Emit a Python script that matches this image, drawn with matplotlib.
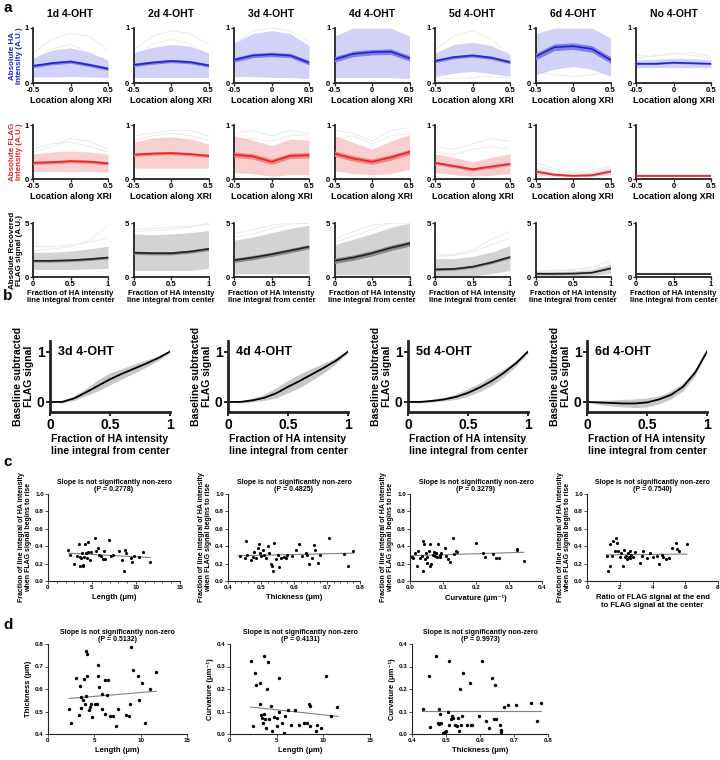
import matplotlib
matplotlib.use("Agg")
import matplotlib.pyplot as plt
from matplotlib.ticker import MultipleLocator

plt.rcParams['font.family'] = ['Liberation Sans', 'DejaVu Sans']
plt.rcParams['font.weight'] = 'bold'

W, H = 720, 760

# ---------------- panel a data ----------------
days = ['1d 4-OHT', '2d 4-OHT', '3d 4-OHT', '4d 4-OHT', '5d 4-OHT', '6d 4-OHT', 'No 4-OHT']
loc_x = [-0.5, -0.25, 0, 0.25, 0.5]
frac_x = [0, 0.25, 0.5, 0.75, 1]

ha_mean = [[0.31, 0.36, 0.39, 0.33, 0.26], [0.33, 0.37, 0.40, 0.38, 0.32], [0.42, 0.50, 0.52, 0.50, 0.37],
           [0.43, 0.53, 0.56, 0.57, 0.45], [0.40, 0.47, 0.50, 0.46, 0.38], [0.48, 0.65, 0.67, 0.62, 0.42],
           [0.35, 0.35, 0.37, 0.36, 0.35]]
ha_hi = [[0.45, 0.60, 0.64, 0.56, 0.42], [0.55, 0.65, 0.70, 0.67, 0.55], [0.72, 0.90, 0.95, 0.90, 0.68],
         [0.85, 1.00, 1.00, 1.00, 0.85], [0.55, 0.70, 0.74, 0.68, 0.52], [0.90, 1.00, 1.00, 1.00, 0.82],
         [0.42, 0.43, 0.45, 0.44, 0.43]]
ha_lo = [[0.11, 0.11, 0.12, 0.11, 0.10], [0.10, 0.10, 0.10, 0.10, 0.10], [0.12, 0.12, 0.10, 0.10, 0.08],
         [0.10, 0.10, 0.10, 0.10, 0.08], [0.12, 0.18, 0.21, 0.17, 0.12], [0.15, 0.25, 0.30, 0.25, 0.12],
         [0.28, 0.28, 0.28, 0.28, 0.28]]
ha_sem = [0.03, 0.03, 0.04, 0.05, 0.03, 0.06, 0.015]
ha_faint = [[[0.55, 0.80, 0.90, 0.85, 0.60], [0.40, 0.62, 0.70, 0.55, 0.35]],
            [[0.60, 0.85, 0.95, 0.90, 0.70], [0.45, 0.70, 0.80, 0.72, 0.50]],
            [[0.70, 0.95, 1.00, 0.95, 0.75], [0.10, 0.12, 0.15, 0.12, 0.08]],
            [[0.20, 0.25, 0.28, 0.30, 0.25], [0.70, 0.85, 0.95, 0.90, 0.70]],
            [[0.60, 0.85, 0.95, 0.80, 0.50], [0.10, 0.08, 0.10, 0.12, 0.08]],
            [[0.20, 0.15, 0.12, 0.15, 0.20], [0.30, 0.40, 0.45, 0.40, 0.28]],
            [[0.45, 0.50, 0.52, 0.55, 0.48], [0.50, 0.48, 0.55, 0.50, 0.45]]]

flag_mean = [[0.30, 0.31, 0.33, 0.32, 0.29], [0.45, 0.47, 0.48, 0.46, 0.43], [0.45, 0.42, 0.32, 0.43, 0.44],
             [0.47, 0.38, 0.32, 0.40, 0.50], [0.30, 0.24, 0.18, 0.23, 0.28], [0.14, 0.08, 0.06, 0.07, 0.14],
             [0.06, 0.06, 0.06, 0.06, 0.06]]
flag_hi = [[0.46, 0.50, 0.52, 0.50, 0.46], [0.68, 0.76, 0.78, 0.74, 0.65], [0.80, 0.72, 0.62, 0.74, 0.72],
           [0.80, 0.68, 0.55, 0.70, 0.82], [0.47, 0.40, 0.32, 0.40, 0.47], [0.20, 0.12, 0.09, 0.12, 0.20],
           [0.08, 0.08, 0.08, 0.08, 0.08]]
flag_lo = [[0.14, 0.14, 0.14, 0.14, 0.13], [0.20, 0.20, 0.20, 0.20, 0.20], [0.12, 0.10, 0.05, 0.08, 0.08],
           [0.15, 0.10, 0.08, 0.10, 0.18], [0.12, 0.08, 0.05, 0.07, 0.10], [0.08, 0.05, 0.04, 0.05, 0.08],
           [0.04, 0.04, 0.04, 0.04, 0.04]]
flag_sem = [0.03, 0.03, 0.05, 0.05, 0.03, 0.015, 0.01]
flag_faint = [[[0.50, 0.60, 0.75, 0.70, 0.55], [0.55, 0.65, 0.68, 0.60, 0.50]],
              [[0.80, 0.85, 0.90, 0.90, 0.80], [0.70, 0.80, 0.85, 0.80, 0.72]],
              [[0.85, 0.90, 0.80, 0.90, 0.85], [0.70, 0.75, 0.70, 0.80, 0.82]],
              [[0.90, 0.85, 0.70, 0.90, 0.95], [0.75, 0.80, 0.65, 0.80, 0.85]],
              [[0.60, 0.55, 0.65, 0.75, 0.70], [0.50, 0.45, 0.55, 0.60, 0.55]],
              [[0.30, 0.20, 0.12, 0.15, 0.25], [0.25, 0.15, 0.10, 0.12, 0.22]],
              [[0.10, 0.10, 0.10, 0.10, 0.10], [0.09, 0.08, 0.09, 0.08, 0.09]]]

rec_mean = [[1.50, 1.50, 1.55, 1.65, 1.80], [2.25, 2.20, 2.20, 2.35, 2.60], [1.55, 1.80, 2.10, 2.45, 2.80],
            [1.50, 1.80, 2.20, 2.70, 3.10], [0.70, 0.75, 0.95, 1.35, 1.85], [0.30, 0.30, 0.32, 0.40, 0.80],
            [0.25, 0.25, 0.25, 0.25, 0.25]]
rec_hi = [[2.30, 2.30, 2.40, 2.60, 2.85], [4.00, 3.90, 4.00, 4.10, 4.30], [3.40, 3.70, 4.10, 4.50, 4.80],
          [3.00, 3.50, 4.00, 4.60, 5.00], [1.70, 1.70, 1.90, 2.30, 2.90], [0.50, 0.50, 0.55, 0.70, 1.20],
          [0.35, 0.35, 0.35, 0.35, 0.35]]
rec_lo = [[0.70, 0.70, 0.70, 0.75, 0.80], [0.60, 0.60, 0.60, 0.60, 0.80], [0.30, 0.30, 0.30, 0.30, 0.30],
          [0.20, 0.20, 0.20, 0.20, 0.20], [0.05, 0.05, 0.10, 0.30, 0.60], [0.10, 0.10, 0.10, 0.15, 0.35],
          [0.15, 0.15, 0.15, 0.15, 0.15]]
rec_sem = [0.12, 0.15, 0.2, 0.25, 0.12, 0.06, 0.03]
rec_faint = [[[2.80, 2.80, 3.00, 3.20, 3.60], [2.40, 2.60, 2.80, 3.40, 4.80]],
             [[4.40, 4.50, 4.60, 4.70, 4.90], [4.20, 4.30, 4.40, 4.60, 5.00]],
             [[4.00, 4.40, 4.80, 5.00, 5.00], [3.70, 4.00, 4.50, 4.90, 5.00]],
             [[3.50, 4.20, 4.80, 5.00, 5.00], [3.20, 3.80, 4.40, 5.00, 5.00]],
             [[2.00, 2.10, 2.50, 3.50, 4.20], [1.90, 2.00, 2.30, 3.00, 3.60]],
             [[0.60, 0.60, 0.70, 0.90, 1.60], [0.50, 0.55, 0.60, 0.80, 1.40]],
             [[0.40, 0.40, 0.40, 0.40, 0.40], [0.38, 0.36, 0.38, 0.36, 0.38]]]

# ---------------- panel b data ----------------
b_titles = ['3d 4-OHT', '4d 4-OHT', '5d 4-OHT', '6d 4-OHT']
b_x = [0, 0.1, 0.2, 0.3, 0.4, 0.5, 0.6, 0.7, 0.8, 0.9, 1.0]
b_mean = [[0, 0.0, 0.07, 0.19, 0.32, 0.45, 0.56, 0.66, 0.76, 0.87, 1.0],
          [0, 0.0, 0.03, 0.08, 0.17, 0.30, 0.42, 0.55, 0.68, 0.82, 1.0],
          [0, 0.0, 0.02, 0.05, 0.10, 0.18, 0.29, 0.42, 0.58, 0.77, 1.0],
          [0, -0.01, -0.02, -0.03, -0.03, -0.01, 0.05, 0.14, 0.30, 0.58, 1.0]]
b_hi = [[0, 0.02, 0.12, 0.27, 0.44, 0.58, 0.66, 0.75, 0.83, 0.91, 1.02],
        [0, 0.02, 0.07, 0.15, 0.28, 0.43, 0.56, 0.67, 0.77, 0.88, 1.02],
        [0, 0.02, 0.05, 0.09, 0.16, 0.26, 0.38, 0.52, 0.66, 0.82, 1.02],
        [0, 0.03, 0.04, 0.05, 0.06, 0.08, 0.12, 0.22, 0.38, 0.64, 1.02]]
b_lo = [[0, -0.02, 0.03, 0.12, 0.22, 0.34, 0.46, 0.57, 0.69, 0.82, 0.98],
        [0, -0.02, 0.0, 0.03, 0.08, 0.18, 0.29, 0.43, 0.58, 0.76, 0.98],
        [0, -0.02, 0.0, 0.02, 0.05, 0.11, 0.21, 0.33, 0.50, 0.71, 0.98],
        [0, -0.05, -0.08, -0.10, -0.11, -0.10, -0.04, 0.06, 0.22, 0.52, 0.98]]

# ---------------- panel c data ----------------
length = [2.3, 2.5, 3.0, 3.3, 3.5, 3.6, 3.6, 3.8, 3.9, 4.0, 4.0, 4.1, 4.2, 4.3, 4.4, 4.5, 4.6, 4.8, 4.9,
          5.3, 5.5, 5.7, 5.8, 6.0, 6.2, 6.4, 6.5, 6.9, 7.2, 7.4, 8.1, 8.4, 8.6, 8.7, 8.9, 9.4, 9.6, 9.8,
          10.3, 10.8, 11.6]
c1_y = [0.36, 0.30, 0.20, 0.29, 0.43, 0.28, 0.17, 0.26, 0.32, 0.18, 0.17, 0.28, 0.43, 0.32, 0.27, 0.45, 0.33,
        0.24, 0.33, 0.50, 0.35, 0.38, 0.30, 0.29, 0.25, 0.34, 0.25, 0.47, 0.29, 0.30, 0.34, 0.24, 0.11, 0.36,
        0.32, 0.27, 0.22, 0.29, 0.28, 0.33, 0.22]
c1_fit = ([2.3, 11.6], [0.32, 0.27])

thick_c = [0.435, 0.453, 0.457, 0.455, 0.47, 0.475, 0.48, 0.485, 0.49, 0.493, 0.497, 0.50, 0.505, 0.51, 0.515,
           0.52, 0.525, 0.53, 0.533, 0.537, 0.54, 0.545, 0.55, 0.555, 0.56, 0.57, 0.575, 0.58, 0.595, 0.605,
           0.615, 0.625, 0.635, 0.64, 0.645, 0.655, 0.66, 0.663, 0.673, 0.68, 0.705, 0.75, 0.765, 0.78]
c2_y = [0.29, 0.27, 0.30, 0.46, 0.24, 0.28, 0.33, 0.27, 0.38, 0.42, 0.32, 0.29, 0.36, 0.30, 0.26, 0.40, 0.32,
        0.19, 0.17, 0.11, 0.44, 0.25, 0.30, 0.16, 0.27, 0.28, 0.26, 0.30, 0.29, 0.36, 0.42, 0.29, 0.32, 0.30,
        0.20, 0.26, 0.41, 0.36, 0.21, 0.30, 0.50, 0.31, 0.17, 0.34]
c2_fit = ([0.43, 0.78], [0.29, 0.32])

curv_c = [0.005, 0.01, 0.015, 0.02, 0.025, 0.03, 0.035, 0.038, 0.04, 0.042, 0.045, 0.048, 0.05, 0.053, 0.057,
          0.06, 0.062, 0.065, 0.07, 0.072, 0.075, 0.078, 0.082, 0.085, 0.09, 0.092, 0.095, 0.105, 0.11, 0.115,
          0.12, 0.13, 0.133, 0.14, 0.142, 0.20, 0.22, 0.226, 0.25, 0.26, 0.27, 0.325, 0.325, 0.345]
c3_y = [0.28, 0.26, 0.32, 0.17, 0.35, 0.27, 0.29, 0.11, 0.46, 0.42, 0.25, 0.32, 0.21, 0.28, 0.34, 0.17, 0.43,
        0.20, 0.30, 0.33, 0.29, 0.32, 0.28, 0.42, 0.30, 0.28, 0.32, 0.38, 0.29, 0.25, 0.22, 0.50, 0.31, 0.35,
        0.33, 0.44, 0.32, 0.28, 0.31, 0.27, 0.26, 0.36, 0.37, 0.23]
c3_fit = ([0.0, 0.345], [0.29, 0.33])

ratio = [1.2, 1.3, 1.4, 1.4, 1.5, 1.6, 1.7, 1.8, 1.85, 1.9, 2.0, 2.1, 2.2, 2.25, 2.3, 2.4, 2.45, 2.5, 2.55,
         2.6, 2.65, 2.7, 2.8, 2.95, 3.25, 3.35, 3.45, 3.65, 3.85, 4.05, 4.25, 4.4, 4.55, 4.65, 4.85, 5.0,
         5.2, 5.45, 5.5, 5.6, 6.1]
c4_y = [0.29, 0.11, 0.43, 0.17, 0.29, 0.46, 0.35, 0.50, 0.44, 0.34, 0.28, 0.32, 0.17, 0.36, 0.28, 0.29, 0.25,
        0.32, 0.28, 0.34, 0.26, 0.30, 0.28, 0.33, 0.21, 0.29, 0.34, 0.27, 0.32, 0.28, 0.29, 0.19, 0.30, 0.28,
        0.25, 0.26, 0.38, 0.44, 0.37, 0.34, 0.42]
c4_fit = ([1.2, 6.1], [0.30, 0.31])

c_xlabels = ['Length (μm)', 'Thickness (μm)', 'Curvature (μm⁻¹)',
             'Ratio of FLAG signal at the end\nto FLAG signal at the center']
c_pvals = ['0.2778', '0.4825', '0.3279', '0.7540']

# ---------------- panel d data ----------------
d1_x = [2.3, 2.5, 3.0, 3.3, 3.5, 3.6, 3.6, 3.8, 3.85, 3.96, 4.1, 4.15, 4.26, 4.26, 4.4, 4.5, 4.6, 4.8, 5.1,
        5.3, 5.4, 5.4, 5.5, 5.8, 5.85, 6.15, 6.2, 6.4, 6.5, 6.7, 7.0, 7.35, 7.55, 8.4, 8.7, 8.9, 8.95,
        9.2, 9.7, 9.8, 10.1, 10.5, 11.0, 11.7]
d1_y = [0.51, 0.45, 0.647, 0.485, 0.615, 0.563, 0.515, 0.55, 0.645, 0.535, 0.77, 0.57, 0.755, 0.66, 0.505,
        0.52, 0.535, 0.475, 0.535, 0.535, 0.705, 0.66, 0.61, 0.58, 0.51, 0.49, 0.64, 0.575, 0.64, 0.48, 0.48,
        0.435, 0.51, 0.485, 0.48, 0.535, 0.785, 0.685, 0.66, 0.55, 0.625, 0.45, 0.60, 0.675]
d1_fit = ([2.3, 11.7], [0.558, 0.59])

d2_x = [2.2, 2.5, 2.7, 2.8, 3.2, 3.2, 3.3, 3.4, 3.5, 3.6, 3.6, 3.8, 3.9, 4.0, 4.1, 4.2, 4.4, 4.5, 4.7, 5.0,
        5.0, 5.2, 5.3, 5.6, 5.8, 5.9, 6.2, 6.5, 7.0, 7.4, 7.9, 8.2, 8.45, 8.6, 8.55, 9.2, 9.35, 9.7, 10.25,
        10.8, 11.5]
d2_y = [0.325, 0.035, 0.27, 0.22, 0.225, 0.135, 0.085, 0.07, 0.05, 0.345, 0.09, 0.065, 0.025, 0.20, 0.32,
        0.065, 0.125, 0.012, 0.075, 0.035, 0.07, 0.25, 0.10, 0.05, 0.005, 0.08, 0.105, 0.04, 0.105, 0.04,
        0.05, 0.05, 0.135, 0.125, 0.035, 0.015, 0.04, 0.025, 0.26, 0.08, 0.12]
d2_fit = ([2.2, 11.6], [0.12, 0.078])

d3_x = [0.432, 0.449, 0.452, 0.472, 0.475, 0.478, 0.48, 0.483, 0.485, 0.491, 0.496, 0.50, 0.505, 0.508, 0.51,
        0.514, 0.517, 0.52, 0.527, 0.532, 0.534, 0.537, 0.54, 0.545, 0.548, 0.55, 0.562, 0.57, 0.574, 0.577,
        0.597, 0.607, 0.617, 0.627, 0.636, 0.641, 0.643, 0.648, 0.659, 0.661, 0.663, 0.671, 0.681, 0.705,
        0.75, 0.768, 0.78]
d3_y = [0.11, 0.26, 0.03, 0.345, 0.05, 0.11, 0.045, 0.088, 0.05, 0.005, 0.01, 0.015, 0.10, 0.325, 0.04,
        0.065, 0.08, 0.07, 0.04, 0.035, 0.07, 0.015, 0.20, 0.04, 0.08, 0.27, 0.04, 0.225, 0.038, 0.04, 0.08,
        0.325, 0.06, 0.025, 0.248, 0.065, 0.22, 0.065, 0.04, 0.02, 0.01, 0.12, 0.13, 0.13, 0.137, 0.057, 0.137]
d3_fit = ([0.43, 0.78], [0.103, 0.103])
d_pvals = ['0.5132', '0.4131', '0.9973']

fig = plt.figure(figsize=(7.2, 7.6), dpi=100)


def px_axes(x0, y0, x1, y1):
    return fig.add_axes([x0 / W, 1 - y1 / H, (x1 - x0) / W, (y1 - y0) / H])


def style(ax, lw, fs, tl=2):
    for s in ['top', 'right']:
        ax.spines[s].set_visible(False)
    for s in ['left', 'bottom']:
        ax.spines[s].set_linewidth(lw)
        ax.spines[s].set_color('#222222')
    ax.tick_params(labelsize=fs, length=tl, width=lw * 0.7, pad=1, color='#222222')
    for t in ax.get_xticklabels() + ax.get_yticklabels():
        t.set_fontweight('bold')


# ---- panel a ----
rows = [(ha_mean, ha_hi, ha_lo, ha_sem, ha_faint, loc_x, 1, 28, 83, ('#cbcbf7', '#7f7fea', '#2323cf')),
        (flag_mean, flag_hi, flag_lo, flag_sem, flag_faint, loc_x, 1, 125, 179, ('#f9c6c6', '#f08585', '#e02626')),
        (rec_mean, rec_hi, rec_lo, rec_sem, rec_faint, frac_x, 5, 223, 277, ('#cccccc', '#8a8a8a', '#222222'))]
ylabs = [('Absolute HA\nIntensity (A.U.)', '#2323cf'), ('Absolute FLAG\nIntensity (A.U.)', '#e02626'),
         ('Absolute Recovered\nFLAG signal (A.U.)', 'black')]

for r, (mean, hi, lo, sem, faint, xs, ytop, y0, y1, cols) in enumerate(rows):
    for i in range(7):
        x0 = 33 + 100.5 * i
        ax = px_axes(x0, y0, x0 + 75, y1)
        for tr in faint[i]:
            ax.plot(xs, tr, color='#e4e4e4', lw=0.5, zorder=1)
        ax.fill_between(xs, lo[i], hi[i], color=cols[0], lw=0, alpha=0.85, zorder=2)
        ax.fill_between(xs, [m - sem[i] for m in mean[i]], [m + sem[i] for m in mean[i]],
                        color=cols[1], lw=0, zorder=3)
        ax.plot(xs, mean[i], color=cols[2], lw=1.2, zorder=4)
        ax.set_ylim(0, ytop)
        ax.set_yticks([0, ytop])
        if r < 2:
            ax.set_xlim(-0.5, 0.5)
            ax.set_xticks([-0.5, 0, 0.5])
            ax.set_xticklabels(['-0.5', '0', '0.5'])
            ax.set_xlabel('Location along XRI', fontsize=6.5, fontweight='bold', labelpad=1)
        else:
            ax.set_xlim(0, 1)
            ax.set_xticks([0, 0.5, 1])
            ax.set_xticklabels(['0', '0.5', '1'])
            ax.set_xlabel('Fraction of HA intensity\nline integral from center', fontsize=5.5,
                          fontweight='bold', labelpad=1, linespacing=1.1)
        style(ax, 1.3, 5.5)
        if r == 0:
            ax.set_title(days[i], fontsize=7.5, fontweight='bold', pad=8)
        if i == 0:
            ax.set_ylabel(ylabs[r][0], fontsize=5.8, fontweight='bold', color=ylabs[r][1],
                          labelpad=1, linespacing=1.1)

# ---- panel b ----
b_left = [50, 228, 408, 587]
for i in range(4):
    ax = px_axes(b_left[i], 341, b_left[i] + 120, 412)
    ax.fill_between(b_x, b_lo[i], b_hi[i], color='#c8c8c8', lw=0)
    ax.plot(b_x, b_mean[i], color='black', lw=1.3)
    ax.set_xlim(0, 1)
    ax.set_ylim(-0.2, 1.21)
    ax.set_xticks([0, 0.5, 1])
    ax.set_xticklabels(['0', '0.5', '1'])
    ax.set_yticks([0, 1])
    style(ax, 2.0, 10, tl=3)
    ax.text(0.07, 0.93, b_titles[i], transform=ax.transAxes, fontsize=9, fontweight='bold', va='top')
    ax.set_ylabel('Baseline subtracted\nFLAG signal', fontsize=7.5, fontweight='bold', labelpad=2,
                  linespacing=1.1)
    ax.set_xlabel('Fraction of HA intensity\nline integral from center', fontsize=7.5, fontweight='bold',
                  labelpad=2, linespacing=1.2)

# ---- panel c ----
c_sets = [(length, c1_y, c1_fit, (0, 15), 5, 1), (thick_c, c2_y, c2_fit, (0.4, 0.8), 0.1, 0.02),
          (curv_c, c3_y, c3_fit, (0.0, 0.4), 0.1, None), (ratio, c4_y, c4_fit, (0, 8), 2, None)]
c_left = [(48, 180), (228, 360), (410, 542), (587, 718)]
for i, (xs, ys, fit, xl, maj, mnr) in enumerate(c_sets):
    ax = px_axes(c_left[i][0], 494, c_left[i][1], 581)
    ax.plot(fit[0], fit[1], color='#808080', lw=0.8, zorder=1)
    ax.scatter(xs, ys, s=5, color='black', zorder=2, linewidths=0)
    ax.set_xlim(*xl)
    ax.set_ylim(0, 1.0)
    ax.xaxis.set_major_locator(MultipleLocator(maj))
    if mnr:
        ax.xaxis.set_minor_locator(MultipleLocator(mnr))
    ax.yaxis.set_major_locator(MultipleLocator(0.2))
    style(ax, 0.8, 4.5)
    ax.tick_params(which='minor', length=1.2, width=0.5)
    ax.yaxis.set_major_formatter(plt.FormatStrFormatter('%.1f'))
    if i in (1, 2):
        ax.xaxis.set_major_formatter(plt.FormatStrFormatter('%.1f'))
    ax.set_title('Slope is not significantly non-zero\n(P = %s)' % c_pvals[i], fontsize=5, fontweight='bold',
                 pad=2, linespacing=1.1)
    ax.set_ylabel('Fraction of line integral of HA intensity\nwhen FLAG signal begins to rise', fontsize=5,
                  fontweight='bold', labelpad=2, linespacing=1.1)
    ax.set_xlabel(c_xlabels[i], fontsize=5.5, fontweight='bold', labelpad=3, linespacing=1.2)

# ---- panel d ----
d_sets = [(d1_x, d1_y, d1_fit, (0, 15), (0.4, 0.8), 5, 'Length (μm)', 'Thickness (μm)'),
          (d2_x, d2_y, d2_fit, (0, 15), (0.0, 0.4), 5, 'Length (μm)', 'Curvature (μm⁻¹)'),
          (d3_x, d3_y, d3_fit, (0.4, 0.8), (0.0, 0.4), 0.1, 'Thickness (μm)', 'Curvature (μm⁻¹)')]
d_left = [(48, 187), (230, 370), (412, 548)]
for i, (xs, ys, fit, xl, yl, maj, xlab, ylab) in enumerate(d_sets):
    ax = px_axes(d_left[i][0], 644, d_left[i][1], 734)
    ax.plot(fit[0], fit[1], color='#808080', lw=0.8, zorder=1)
    ax.scatter(xs, ys, s=6, color='black', zorder=2, linewidths=0)
    ax.set_xlim(*xl)
    ax.set_ylim(*yl)
    ax.xaxis.set_major_locator(MultipleLocator(maj))
    ax.yaxis.set_major_locator(MultipleLocator(0.1))
    style(ax, 0.8, 4.5)
    ax.yaxis.set_major_formatter(plt.FormatStrFormatter('%.1f'))
    if i == 2:
        ax.xaxis.set_major_formatter(plt.FormatStrFormatter('%.1f'))
    ax.set_title('Slope is not significantly non-zero\n(P = %s)' % d_pvals[i], fontsize=5, fontweight='bold',
                 pad=2, linespacing=1.1)
    ax.set_ylabel(ylab, fontsize=5.5, fontweight='bold', labelpad=2)
    ax.set_xlabel(xlab, fontsize=5.5, fontweight='bold', labelpad=3)

for lab, y in [('a', 8), ('b', 296), ('c', 462), ('d', 625)]:
    fig.text(3 / W, 1 - y / H, lab, fontsize=11, fontweight='bold', va='center')

fig.savefig('out.png', dpi=100)
